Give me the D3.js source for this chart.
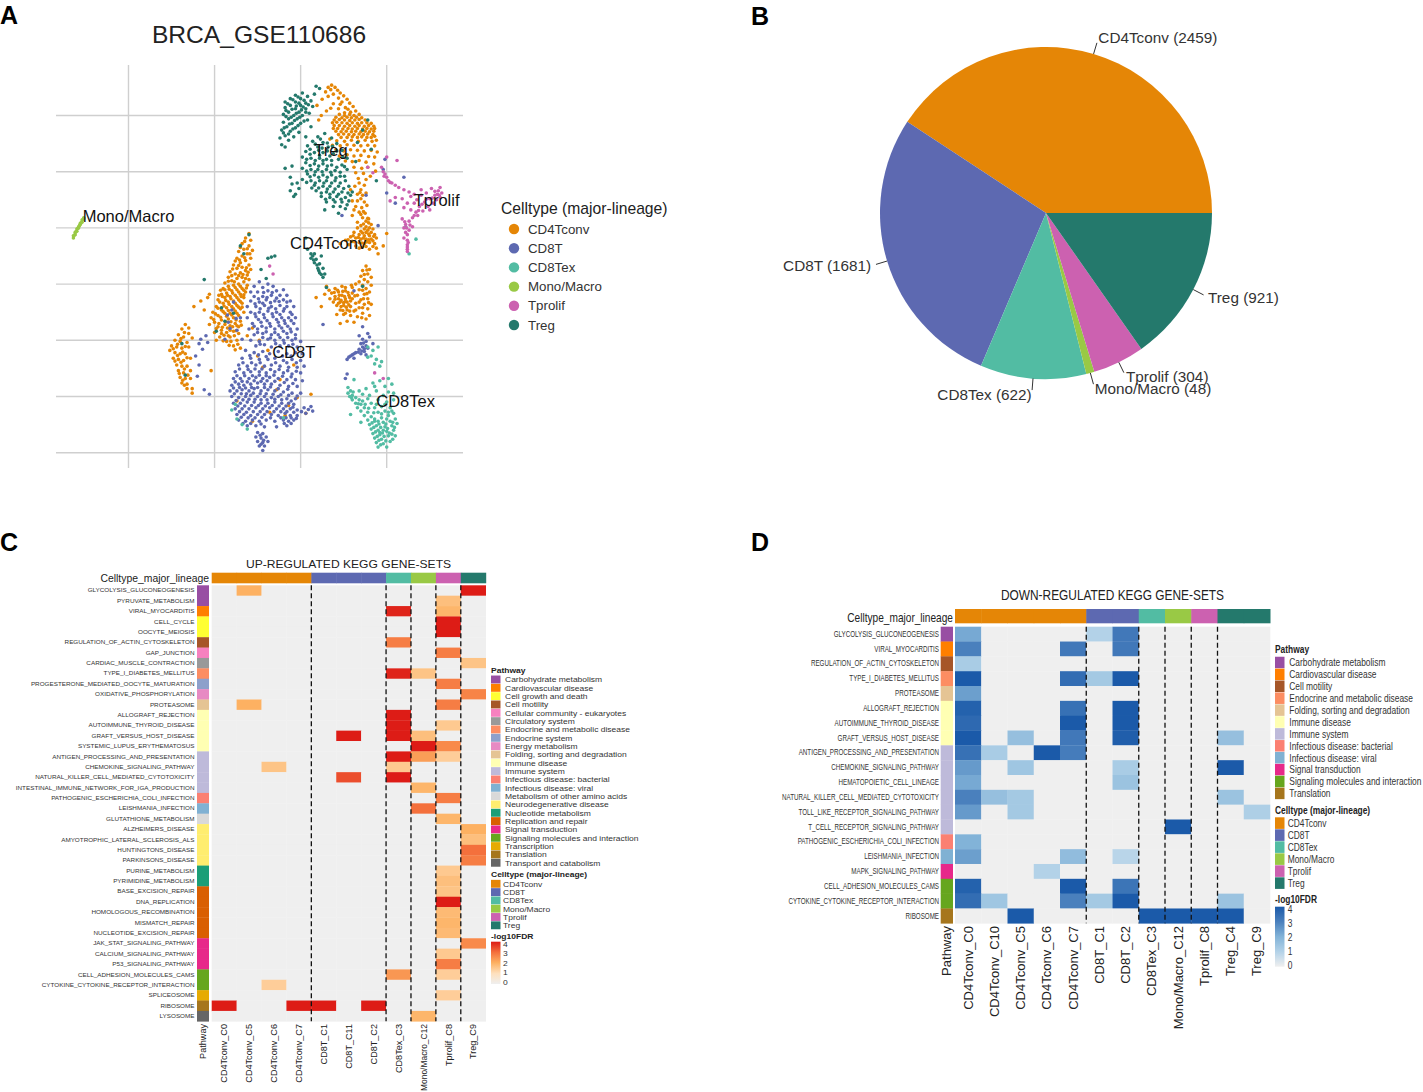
<!DOCTYPE html>
<html>
<head>
<meta charset="utf-8">
<script src="https://cdn.jsdelivr.net/npm/d3@7"></script>
<style>
body { margin: 0; background: #fff; }
svg { display: block; }
text { font-family: "Liberation Sans", Arial, sans-serif; }
</style>
</head>
<body>
<div id="chart"></div>
<script>
// ---- cell types and pathways
const cellTypes = ["CD4Tconv", "CD8T", "CD8Tex", "Mono/Macro", "Tprolif", "Treg"];
const cellColors = ["#e58606", "#5d69b1", "#52bca3", "#99c945", "#cc61b0", "#24796c"];
const cellCounts = [2459, 1681, 622, 48, 304, 921];

const pathways = ["Carbohydrate metabolism", "Cardiovascular disease", "Cell growth and death", "Cell motility",
  "Cellular community - eukaryotes", "Circulatory system", "Endocrine and metabolic disease", "Endocrine system",
  "Energy metabolism", "Folding, sorting and degradation", "Immune disease", "Immune system",
  "Infectious disease: bacterial", "Infectious disease: viral", "Metabolism of other amino acids",
  "Neurodegenerative disease", "Nucleotide metabolism", "Replication and repair", "Signal transduction",
  "Signaling molecules and interaction", "Transcription", "Translation", "Transport and catabolism"];
const pathwayColors = ["#984ea3", "#ff7f00", "#ffff33", "#a65628", "#f781bf", "#999999", "#fc8d62", "#8da0cb",
  "#e78ac3", "#e5c494", "#ffffb3", "#bebada", "#fb8072", "#80b1d3", "#d9d9d9", "#ffed6f", "#1b9e77", "#d95f02",
  "#e7298a", "#66a61e", "#e6ab02", "#a6761d", "#666666"];

// ---- panel C data
const upColumns = ["CD4Tconv_C0", "CD4Tconv_C5", "CD4Tconv_C6", "CD4Tconv_C7", "CD8T_C1", "CD8T_C11", "CD8T_C2", "CD8Tex_C3", "Mono/Macro_C12", "Tprolif_C8", "Treg_C9"];
const upColumnType = [0, 0, 0, 0, 1, 1, 1, 2, 3, 4, 5];
const upRows = ["GLYCOLYSIS_GLUCONEOGENESIS", "PYRUVATE_METABOLISM", "VIRAL_MYOCARDITIS", "CELL_CYCLE", "OOCYTE_MEIOSIS",
  "REGULATION_OF_ACTIN_CYTOSKELETON", "GAP_JUNCTION", "CARDIAC_MUSCLE_CONTRACTION", "TYPE_I_DIABETES_MELLITUS",
  "PROGESTERONE_MEDIATED_OOCYTE_MATURATION", "OXIDATIVE_PHOSPHORYLATION", "PROTEASOME", "ALLOGRAFT_REJECTION",
  "AUTOIMMUNE_THYROID_DISEASE", "GRAFT_VERSUS_HOST_DISEASE", "SYSTEMIC_LUPUS_ERYTHEMATOSUS",
  "ANTIGEN_PROCESSING_AND_PRESENTATION", "CHEMOKINE_SIGNALING_PATHWAY", "NATURAL_KILLER_CELL_MEDIATED_CYTOTOXICITY",
  "INTESTINAL_IMMUNE_NETWORK_FOR_IGA_PRODUCTION", "PATHOGENIC_ESCHERICHIA_COLI_INFECTION", "LEISHMANIA_INFECTION",
  "GLUTATHIONE_METABOLISM", "ALZHEIMERS_DISEASE", "AMYOTROPHIC_LATERAL_SCLEROSIS_ALS", "HUNTINGTONS_DISEASE",
  "PARKINSONS_DISEASE", "PURINE_METABOLISM", "PYRIMIDINE_METABOLISM", "BASE_EXCISION_REPAIR", "DNA_REPLICATION",
  "HOMOLOGOUS_RECOMBINATION", "MISMATCH_REPAIR", "NUCLEOTIDE_EXCISION_REPAIR", "JAK_STAT_SIGNALING_PATHWAY",
  "CALCIUM_SIGNALING_PATHWAY", "P53_SIGNALING_PATHWAY", "CELL_ADHESION_MOLECULES_CAMS",
  "CYTOKINE_CYTOKINE_RECEPTOR_INTERACTION", "SPLICEOSOME", "RIBOSOME", "LYSOSOME"];
const upRowPathway = [0, 0, 1, 2, 2, 3, 4, 5, 6, 7, 8, 9, 10, 10, 10, 10, 11, 11, 11, 11, 12, 13, 14, 15, 15, 15, 15, 16, 16, 17, 17, 17, 17, 17, 18, 18, 18, 19, 19, 20, 21, 22];
const upValues = [
  [0, 2, 0, 0, 0, 0, 0, 0, 0, 0, 4],
  [0, 0, 0, 0, 0, 0, 0, 0, 0, 1.7, 0],
  [0, 0, 0, 0, 0, 0, 0, 3.9, 0, 1.9, 0],
  [0, 0, 0, 0, 0, 0, 0, 0, 0, 4, 0],
  [0, 0, 0, 0, 0, 0, 0, 0, 0, 4, 0],
  [0, 0, 0, 0, 0, 0, 0, 2.8, 0, 0, 0],
  [0, 0, 0, 0, 0, 0, 0, 0, 0, 2.8, 0],
  [0, 0, 0, 0, 0, 0, 0, 0, 0, 0, 1.6],
  [0, 0, 0, 0, 0, 0, 0, 3.9, 1.6, 0, 0],
  [0, 0, 0, 0, 0, 0, 0, 0, 0, 2.8, 0],
  [0, 0, 0, 0, 0, 0, 0, 0, 0, 0, 2.7],
  [0, 2, 0, 0, 0, 0, 0, 0, 0, 2.8, 0],
  [0, 0, 0, 0, 0, 0, 0, 4, 0, 0, 0],
  [0, 0, 0, 0, 0, 0, 0, 4, 0, 1.5, 0],
  [0, 0, 0, 0, 0, 4, 0, 4, 1.7, 0, 0],
  [0, 0, 0, 0, 0, 0, 0, 0, 4, 2.6, 0],
  [0, 0, 0, 0, 0, 0, 0, 4, 2.3, 1.4, 0],
  [0, 0, 1.6, 0, 0, 0, 0, 1.5, 0, 0, 0],
  [0, 0, 0, 0, 0, 3.4, 0, 4, 0, 0, 0],
  [0, 0, 0, 0, 0, 0, 0, 0, 1.9, 0, 0],
  [0, 0, 0, 0, 0, 0, 0, 0, 0, 2.8, 0],
  [0, 0, 0, 0, 0, 0, 0, 0, 3, 0, 0],
  [0, 0, 0, 0, 0, 0, 0, 0, 0, 1.9, 0],
  [0, 0, 0, 0, 0, 0, 0, 0, 0, 0, 2],
  [0, 0, 0, 0, 0, 0, 0, 0, 0, 0, 1.7],
  [0, 0, 0, 0, 0, 0, 0, 0, 0, 0, 3],
  [0, 0, 0, 0, 0, 0, 0, 0, 0, 0, 2.8],
  [0, 0, 0, 0, 0, 0, 0, 0, 0, 1.5, 0],
  [0, 0, 0, 0, 0, 0, 0, 0, 0, 1.7, 0],
  [0, 0, 0, 0, 0, 0, 0, 0, 0, 1.6, 0],
  [0, 0, 0, 0, 0, 0, 0, 0, 0, 4, 0],
  [0, 0, 0, 0, 0, 0, 0, 0, 0, 1.8, 0],
  [0, 0, 0, 0, 0, 0, 0, 0, 0, 1.9, 0],
  [0, 0, 0, 0, 0, 0, 0, 0, 0, 1.8, 0],
  [0, 0, 0, 0, 0, 0, 0, 0, 0, 0, 2.6],
  [0, 0, 0, 0, 0, 0, 0, 0, 0, 1.5, 0],
  [0, 0, 0, 0, 0, 0, 0, 0, 0, 2.8, 0],
  [0, 0, 0, 0, 0, 0, 0, 2.4, 0, 1.4, 0],
  [0, 0, 1.4, 0, 0, 0, 0, 0, 0, 0, 0],
  [0, 0, 0, 0, 0, 0, 0, 0, 0, 1.4, 0],
  [4, 0, 0, 4, 4, 0, 4, 0, 0, 0, 0],
  [0, 0, 0, 0, 0, 0, 0, 0, 1.9, 0, 0]
];

// ---- panel D data
const downColumns = ["CD4Tconv_C0", "CD4Tconv_C10", "CD4Tconv_C5", "CD4Tconv_C6", "CD4Tconv_C7", "CD8T_C1", "CD8T_C2", "CD8Tex_C3", "Mono/Macro_C12", "Tprolif_C8", "Treg_C4", "Treg_C9"];
const downColumnType = [0, 0, 0, 0, 0, 1, 1, 2, 3, 4, 5, 5];
const downRows = ["GLYCOLYSIS_GLUCONEOGENESIS", "VIRAL_MYOCARDITIS", "REGULATION_OF_ACTIN_CYTOSKELETON", "TYPE_I_DIABETES_MELLITUS",
  "PROTEASOME", "ALLOGRAFT_REJECTION", "AUTOIMMUNE_THYROID_DISEASE", "GRAFT_VERSUS_HOST_DISEASE",
  "ANTIGEN_PROCESSING_AND_PRESENTATION", "CHEMOKINE_SIGNALING_PATHWAY", "HEMATOPOIETIC_CELL_LINEAGE",
  "NATURAL_KILLER_CELL_MEDIATED_CYTOTOXICITY", "TOLL_LIKE_RECEPTOR_SIGNALING_PATHWAY", "T_CELL_RECEPTOR_SIGNALING_PATHWAY",
  "PATHOGENIC_ESCHERICHIA_COLI_INFECTION", "LEISHMANIA_INFECTION", "MAPK_SIGNALING_PATHWAY",
  "CELL_ADHESION_MOLECULES_CAMS", "CYTOKINE_CYTOKINE_RECEPTOR_INTERACTION", "RIBOSOME"];
const downRowPathway = [0, 1, 3, 6, 9, 10, 10, 10, 11, 11, 11, 11, 11, 11, 12, 13, 18, 19, 19, 21];
const downPathways = [0, 1, 3, 6, 9, 10, 11, 12, 13, 18, 19, 21];
const downValues = [
  [2.2, 0, 0, 0, 0, 1, 3.2, 0, 0, 0, 0, 0],
  [3, 0, 0, 0, 3.2, 0, 3.2, 0, 0, 0, 0, 0],
  [1.2, 0, 0, 0, 0, 0, 0, 0, 0, 0, 0, 0],
  [4, 0, 0, 0, 3.5, 1.3, 4, 0, 0, 0, 0, 0],
  [2.4, 0, 0, 0, 0, 0, 0, 0, 0, 0, 0, 0],
  [3.8, 0, 0, 0, 3.4, 0, 4, 0, 0, 0, 0, 0],
  [3.6, 0, 0, 0, 4, 0, 4, 0, 0, 0, 0, 0],
  [4, 0, 1.6, 0, 3.2, 0, 3.9, 0, 0, 0, 1.6, 0],
  [3.4, 1.2, 0, 4, 3.1, 0, 0, 0, 0, 0, 0, 0],
  [2.5, 0, 1.4, 0, 0, 0, 1.2, 0, 0, 0, 4, 0],
  [2.2, 0, 0, 0, 0, 0, 1.5, 0, 0, 0, 0, 0],
  [3, 1.6, 1.3, 0, 0, 0, 0, 0, 0, 0, 1.5, 0],
  [2.5, 0, 1.3, 0, 0, 0, 0, 0, 0, 0, 0, 1.1],
  [0, 0, 0, 0, 0, 0, 0, 0, 4, 0, 0, 0],
  [2, 0, 0, 0, 0, 0, 0, 0, 0, 0, 0, 0],
  [2.4, 0, 0, 0, 1.7, 0, 0.9, 0, 0, 0, 0, 0],
  [0, 0, 0, 1, 0, 0, 0, 0, 0, 0, 0, 0],
  [3.8, 0, 0, 0, 4, 0, 3.3, 0, 0, 0, 0, 0],
  [3.5, 1.4, 0, 0, 3, 1.3, 4, 0, 0, 0, 1.5, 0],
  [0, 0, 4, 0, 0, 0, 0, 4, 4, 4, 4, 0]
];

// ---- panel A data, embedding coordinates
const cd4tconvCells = [
  // top lobe, thin band from the apex
  [1.8,17.7],[1.6,17.5],[2,17.5],[1.75,17.3],[2.15,17.25],[1.45,17.1],[2.3,17],[1.9,16.9],[2.5,16.75],[1.6,16.7],[2.2,16.55],[2.7,16.45],[1.25,16.45],[2.4,16.2],[2.85,16.1],[1.9,16.05],[3.05,15.8],[2.6,15.7],[0.95,15.9],[2.2,15.6],[1.75,15.65],[3.2,15.4],[2.9,15.3],[1.5,15.4],[2.55,15.25],[2.75,15.55],[2.3,16],[1.2,15],[1.05,14.6],
  // top lobe, dense mass
  [2.25,15.1],[2.55,15],[2.85,15.1],[3.1,15],[3.4,15.1],[2.05,14.85],[2.4,14.8],[2.7,14.85],[2.95,14.8],[3.25,14.85],[3.55,14.8],[1.95,14.6],[2.25,14.65],[2.55,14.6],[2.85,14.55],[3.15,14.6],[3.4,14.65],[3.75,14.6],[1.85,14.35],[2.1,14.4],[2.4,14.35],[2.7,14.3],[3,14.35],[3.3,14.3],[3.55,14.35],[3.85,14.35],[4.1,14.3],[1.95,14.1],[2.25,14.1],[2.55,14.05],[2.85,14.1],[3.15,14.05],[3.4,14.1],[3.7,14.05],[3.95,14.1],[4.25,14.05],[1.9,13.85],[2.15,13.85],[2.45,13.8],[2.75,13.85],[3,13.8],[3.3,13.85],[3.6,13.8],[3.85,13.85],[4.1,13.8],[4.3,13.85],[2.05,13.6],[2.35,13.55],[2.65,13.6],[2.95,13.55],[3.2,13.6],[3.5,13.55],[3.75,13.6],[4,13.55],[4.25,13.6],[2.2,13.3],[2.5,13.35],[2.8,13.3],[3.1,13.3],[3.4,13.35],[3.65,13.3],[3.9,13.35],[4.2,13.3],[2.35,13.05],[2.7,13.05],[3,13.1],[3.3,13.05],[3.55,13.1],[3.85,13.05],[4.1,13.05],[4.3,13.15],
  // top lobe, sparser below the mass
  [1.7,12.9],[2.1,12.75],[2.55,12.7],[2.95,12.8],[3.35,12.7],[3.75,12.8],[4.15,12.7],[4.4,12.8],[1.85,12.35],[2.3,12.3],[2.7,12.4],[3.1,12.35],[3.5,12.3],[3.9,12.35],[4.3,12.3],[2.05,11.95],[2.5,11.85],[2.9,11.95],[3.3,11.9],[3.7,11.85],[4.1,11.9],[4.45,11.75],[2.25,11.4],[2.7,11.5],[3.1,11.4],[3.5,11.45],[3.95,11.35],[4.3,11.3],[2.6,10.95],[3,10.9],[3.4,11],[3.8,10.85],[4.25,10.7],[3.1,10.4],[3.55,10.3],[3.9,10.4],[4.35,10.05],[3.2,9.9],[3.65,9.85],[4.05,9.6],[3.35,9.4],[3.8,9.3],
  // stem and cap above the CD4Tconv label
  [3.4,9],[3.7,8.8],[2.9,8.4],[3.5,8.4],[3.3,8],[3.8,8.1],[3.5,7.6],[3,7.4],[3.7,7.3],[3.2,6.9],[3.55,6.8],[3.85,7],[3.4,6.4],[3.75,6.3],[3,6.1],[3.6,5.9],[3.95,5.8],[3.3,5.5],[3.8,5.6],[4.1,5.3],[3.5,5.2],[3.8,5.1],[4,5],[3.3,5],[3.7,4.9],[3.9,4.8],[4.2,4.9],[3.5,4.7],[3.8,4.6],[4.1,4.6],[3.1,4.6],[3.4,4.4],[3.7,4.3],[4,4.3],[4.3,4.4],[2.9,4.2],[3.2,4.1],[3.5,4],[3.8,4],[4.1,4],[4.4,4.1],[2.6,3.9],[3,3.8],[3.4,3.7],[3.7,3.6],[4,3.7],[4.3,3.6],[2.3,3.6],[2.8,3.5],[3.2,3.4],[3.6,3.3],[4.4,3.2],[4,3.1],[4.8,3.4],[4.5,2.7],[5,4.5],
  [3.65,5.35],[3.95,5.45],[3.6,4.55],[3.95,4.45],[4.25,4.25],[3.35,4.15],[3.65,4.1],[3.95,3.95],[4.2,3.85],[3.15,3.75],[3.55,3.65],[3.85,3.75],[2.75,3.95],[3.05,4.3],[3.4,3.2],[3.8,3.35],[4.2,3.35],[3.3,7.4],[3.6,7.9],[3.15,8.7],[3.65,6.45],[3.5,6.2],[3.9,5.85],[3.1,6.6],[3.45,8.15],
  // lower lobe
  [3.8,1.6],[3.6,1.2],[4,1.3],[3.9,0.9],[3.5,0.7],[4.1,0.6],[3.7,0.4],[3.4,0.2],[3.9,0.2],[4.1,-0.1],[3.6,-0.1],[3.2,0],[3.8,-0.4],[4,-0.7],[3.4,-0.5],[3,-0.3],[2.6,-0.3],[3.7,-0.9],[1.5,-0.2],[2,-0.4],[2.4,-0.2],[1.4,-0.9],[1.8,-0.8],[2.2,-0.7],[2.6,-0.6],[3,-0.8],[3.3,-1],[2,-1.1],[2.4,-1],[2.8,-1],[1.7,-1.3],[2.2,-1.3],[2.6,-1.3],[3,-1.3],[3.5,-1.4],[3.9,-1.3],[1.9,-1.6],[2.3,-1.6],[2.7,-1.6],[3.2,-1.7],[3.7,-1.8],[4.1,-1.8],[2.1,-1.9],[2.5,-1.9],[2.9,-2],[3.4,-2.1],[3.9,-2.2],[2.3,-2.3],[2.7,-2.3],[3.1,-2.4],[3.6,-2.6],[4,-2.8],[2.5,-2.7],[2.9,-2.8],[3.3,-2.9],[3.8,-3.1],[2.7,-3.3],[2.3,-3.5],[3.1,-3.4],[0.9,-1.2],[1.2,-2],[2.1,-2.7],
  [2.15,-0.55],[2.45,-0.65],[2.75,-0.75],[1.95,-0.75],[2.25,-1],[2.55,-1.1],[2.85,-1.2],[2,-1.35],[2.35,-1.45],[2.6,-1.55],[2.9,-1.5],[2.2,-1.7],[2.5,-1.65],[2.8,-1.85],[2.35,-2],[2.65,-2.05],[2.45,-2.35],[2.85,-2.4],[2.6,-2.6],[3.15,-1.05],[3.4,-1.6],[3.6,-0.55],[3.85,-0.85],[3.65,-1.3],[3.95,-1.65],[3.2,-2.3],[3.6,-2.1],[1.65,-0.55],[2.95,-0.1],[3.7,0.85],[3.85,1.25],[3.55,-3],
  // big left lobe
  [-3,4.5],[-3.2,4.1],[-2.9,3.9],[-3.4,3.6],[-3,3.4],[-3.3,3.1],[-2.8,3],[-3.6,2.9],[-3.1,2.7],[-3.4,2.5],[-2.9,2.3],[-3.7,2.3],[-3.2,2.1],[-3.5,1.9],[-3,1.7],[-3.9,1.7],[-3.4,1.5],[-3.7,1.4],[-2.9,1.3],[-3.2,1.2],[-4.1,1.1],[-3.5,1],[-3.8,0.9],[-3.1,0.8],[-4.2,0.6],[-3.4,0.6],[-3.7,0.5],[-4,0.3],[-3,0.4],[-3.3,0.2],[-4.4,0.1],[-3.6,0],[-3.9,-0.1],[-4.2,-0.2],[-3.1,-0.1],[-4.5,-0.4],[-3.4,-0.4],[-3.7,-0.5],[-4,-0.6],[-4.3,-0.8],[-3.2,-0.7],[-4.6,-0.9],[-3.5,-0.9],[-3.8,-1],[-4.1,-1.1],[-4.4,-1.2],[-3.3,-1.2],[-4.8,-1.4],[-3.6,-1.4],[-3.9,-1.5],[-4.2,-1.6],[-4.5,-1.7],[-3.4,-1.7],[-4.9,-2],[-3.7,-1.9],[-4,-2],[-4.3,-2.1],[-4.6,-2.3],[-3.5,-2.2],[-5.1,-2.5],[-3.8,-2.4],[-4.1,-2.6],[-4.4,-2.6],[-4.8,-2.8],[-3.6,-2.8],[-5.2,-3],[-3.9,-3],[-4.2,-3.1],[-4.6,-3.2],[-3.5,-3.3],[-5,-3.4],[-3.8,-3.5],[-4.4,-3.6],[-4.1,-3.7],[-4.8,-3.8],[-3.6,-3.8],[-4.6,-4.1],[-3.9,-4.2],[-4.3,-4.3],[-5,-4.3],[-3.6,-4.4],[-4.1,-4.7],[-4.7,-4.7],[-3.7,-5],[-4.3,-5.1],[-3.9,-5.5],[-3.5,-5.7],[-4.9,-5],[-5.4,-1.2],[-5.8,-1.5],[-5.6,-2.3],[-5.3,-0.9],[-6.2,-2],
  [-3.25,3.8],[-3.1,3.15],[-3.5,3.25],[-3.25,2.35],[-3.55,2.15],[-3.8,2.05],[-3.15,1.45],[-3.6,1.65],[-3.95,1.35],[-3.35,0.85],[-3.6,0.75],[-4,0.75],[-3.2,0.5],[-3.85,0.2],[-4.2,0.25],[-3.5,-0.2],[-3.8,-0.3],[-4.15,-0.45],[-4.4,-0.5],[-3.3,-0.55],[-3.6,-0.7],[-3.95,-0.8],[-4.25,-1],[-4.55,-1.1],[-3.45,-1.1],[-3.7,-1.2],[-4.05,-1.3],[-4.35,-1.45],[-4.7,-1.6],[-3.5,-1.55],[-3.8,-1.7],[-4.15,-1.8],[-4.45,-1.95],[-4.8,-2.15],[-3.6,-2.05],[-3.9,-2.2],[-4.2,-2.35],[-4.5,-2.45],[-4.95,-2.65],[-3.7,-2.6],[-4,-2.75],[-4.3,-2.85],[-4.65,-2.95],[-5.05,-3.15],[-3.75,-3.2],[-4.05,-3.35],[-4.35,-3.35],[-4.75,-3.5],[-3.7,-3.7],[-3.95,-3.8],[-4.25,-3.9],[-4.55,-3.85],[-4.9,-3.95],[-3.75,-4.15],[-4.1,-4.1],[-4.45,-4.55],[-4.2,-4.6],[-3.85,-4.6],[-4.6,-4.4],[-4.05,-5.1],[-4.5,-5.05],[-3.65,-5.35],[-4.15,-5.45],[-3.8,-5.85],[-3.3,-2.5],[-3.45,-3.65],[-5.3,-3.6],[-3.3,-0.95],[-3.05,1.05],[-2.95,2.7],[-3.15,-0.35],[-3.4,-2.05],[-4.75,-1],[-4.65,-0.55],
  // small far left lobe
  [-6.7,-3.6],[-6.5,-3.9],[-6.9,-4],[-6.5,-4.4],[-7.1,-4.5],[-6.8,-4.7],[-6.3,-4.8],[-7.3,-5],[-7,-5.1],[-6.6,-5.2],[-7.5,-5.5],[-7.2,-5.6],[-6.9,-5.7],[-6.5,-5.6],[-7.6,-5.9],[-7.3,-6.1],[-7,-6.2],[-6.7,-6.2],[-7.4,-6.6],[-7.1,-6.7],[-6.8,-6.8],[-6.4,-6.6],[-7.2,-7.2],[-6.9,-7.3],[-6.6,-7.3],[-7.1,-7.7],[-6.8,-7.9],[-6.4,-7.7],[-7,-8.3],[-6.7,-8.4],[-6.4,-8.4],[-6.9,-8.8],[-6.6,-8.9],[-6.6,-9.3],[-6.3,-9.3],[-6.3,-9.7],[-5.2,-7.7],
  [-6.75,-4.3],[-6.95,-4.85],[-6.7,-5.55],[-7.15,-5.35],[-7.4,-5.75],[-6.85,-6.05],[-7.15,-6.35],[-6.6,-6.55],[-6.95,-6.95],[-7.3,-6.85],[-6.75,-7.55],[-7.05,-7.95],[-6.85,-8.55],[-6.55,-8.1],[-6.75,-9],
  // strays in the other clusters
  [-2.5,-6.4],[-1.9,-5.9],[-2.2,-7.4],[-1.2,-8.5],[-0.4,-7.2],[-0.7,-10.8],[-1.8,-11.4],[-3.7,-10.4],[-2.8,-12.2],[0.3,-11.5],[-0.2,-10.1],[-2.4,-5],[-3.1,-4.6],[-2.8,-3.9],[-1.4,-9.4],[0.6,-9.8],[-0.9,-11.7]
];
const cd8tCells = [
  // upper half
  [-2.4,0.2],[-1.9,0],[-2.7,-0.2],[-2.2,-0.3],[-1.6,-0.2],[-2.9,-0.7],[-2.5,-0.7],[-1.9,-0.6],[-1.4,-0.6],[-1,-0.5],[-2.7,-1.1],[-2.2,-1.1],[-1.7,-1],[-1.2,-1],[-0.8,-1],[-2.9,-1.5],[-2.4,-1.6],[-2,-1.4],[-1.5,-1.5],[-1,-1.4],[-0.6,-1.5],[-3.1,-2],[-2.6,-2],[-2.1,-1.9],[-1.7,-2],[-1.2,-1.9],[-0.8,-2],[-0.4,-2],[-2.9,-2.5],[-2.4,-2.5],[-1.9,-2.4],[-1.4,-2.5],[-1,-2.4],[-0.6,-2.5],[-3.1,-3],[-2.6,-2.9],[-2.1,-3],[-1.6,-2.9],[-1.1,-3],[-0.7,-3],[-0.3,-3],[-2.8,-3.5],[-2.3,-3.4],[-1.8,-3.5],[-1.3,-3.4],[-0.9,-3.5],[-0.4,-3.5],[-3,-4],[-2.5,-4],[-2,-3.9],[-1.5,-4],[-1.1,-3.9],[-0.6,-4],[-0.2,-4],[-2.7,-4.5],[-2.2,-4.4],[-1.7,-4.5],[-1.3,-4.5],[-0.8,-4.4],[-0.3,-4.5],[-2.9,-5],[-2.4,-5.1],[-1.9,-4.9],[-1.5,-5],[-1,-5],[-0.5,-5],[0,-5.1],[-2.6,-5.5],[-2.1,-5.4],[-1.7,-5.6],[-1.2,-5.5],[-0.7,-5.5],[-0.2,-5.6],
  [-2.15,-0.75],[-1.65,-0.75],[-2.45,-1.3],[-1.95,-1.2],[-1.4,-1.25],[-2.65,-1.75],[-2.2,-1.7],[-1.75,-1.65],[-1.25,-1.55],[-0.8,-1.6],[-2.35,-2.2],[-1.85,-2.15],[-1.45,-2.2],[-0.95,-2.2],[-2.65,-2.65],[-2.15,-2.7],[-1.65,-2.65],[-1.2,-2.7],[-0.5,-2.7],[-2.45,-3.15],[-1.95,-3.25],[-1.4,-3.15],[-0.95,-3.25],[-0.55,-3.25],[-2.7,-3.75],[-2.25,-3.75],[-1.75,-3.75],[-1.25,-3.7],[-0.75,-3.75],[-2.5,-4.3],[-2,-4.25],[-1.5,-4.3],[-1,-4.2],[-0.55,-4.25],[-2.2,-4.75],[-1.75,-4.8],[-1.2,-4.75],[-0.75,-4.75],[-0.3,-4.85],[-2.35,-5.35],[-1.45,-5.3],[-0.95,-5.25],[-0.45,-5.35],
  // lower half
  [-3.2,-5.9],[-2.7,-6.1],[-2.2,-6],[-1.8,-6.2],[-1.3,-6],[-0.8,-6.2],[-0.3,-6.1],[0.1,-6.2],[-3.4,-6.6],[-2.9,-6.6],[-2.4,-6.7],[-1.9,-6.7],[-1.5,-6.6],[-1,-6.8],[-0.5,-6.7],[0,-6.8],[-3.6,-7.2],[-3.1,-7.3],[-2.6,-7.2],[-2.1,-7.3],[-1.7,-7.2],[-1.2,-7.3],[-0.7,-7.4],[-0.2,-7.4],[0.2,-7.3],[-3.8,-7.8],[-3.3,-7.9],[-2.9,-7.8],[-2.4,-7.8],[-2,-7.9],[-1.5,-7.8],[-1,-7.9],[-0.5,-8],[0,-7.9],[-3.9,-8.4],[-3.5,-8.4],[-3,-8.4],[-2.6,-8.3],[-2.2,-8.4],[-1.8,-8.3],[-1.3,-8.4],[-0.8,-8.5],[-0.3,-8.5],[0.1,-8.6],[-4,-9],[-3.6,-8.9],[-3.3,-9],[-2.9,-8.9],[-2.5,-8.8],[-2.1,-8.9],[-1.7,-8.9],[-1.2,-9],[-0.7,-9.1],[-0.2,-9.1],[-4.1,-9.5],[-3.7,-9.5],[-3.4,-9.4],[-3,-9.5],[-2.7,-9.3],[-2.3,-9.5],[-1.9,-9.4],[-1.5,-9.5],[-1,-9.6],[-0.5,-9.7],[0,-9.7],[-4,-10],[-3.6,-10.1],[-3.2,-10],[-2.9,-9.9],[-2.5,-10],[-2.1,-10],[-1.7,-10.1],[-1.3,-10],[-0.8,-10.2],[-0.3,-10.2],[-3.9,-10.6],[-3.5,-10.6],[-3.1,-10.5],[-2.7,-10.5],[-2.3,-10.6],[-1.9,-10.6],[-1.5,-10.5],[-1.1,-10.6],[-0.7,-10.6],[-0.4,-10.7],[-3.8,-11.1],[-3.4,-11.1],[-3,-11.1],[-2.6,-11],[-2.2,-11.1],[-1.8,-11],[-1.4,-11.1],[-1,-11.1],[-0.6,-11.1],[-0.2,-11.2],[0.2,-11],[0.6,-10.9],[0.7,-11.3],[-3.7,-11.6],[-3.3,-11.6],[-2.9,-11.7],[-2.5,-11.6],[-2.1,-11.6],[-1.7,-11.6],[-1.3,-11.7],[-0.9,-11.5],[-0.6,-11.7],[-0.2,-11.7],[0.3,-11.5],[-3.6,-12.1],[-3.2,-12.2],[-2.8,-12.1],[-2.4,-12.2],[-2,-12.1],[-1.5,-12.2],[-1,-12.1],[-0.7,-12.2],[-0.4,-12.1],[-3.1,-12.6],[-2.6,-12.6],[-2.1,-12.7],[-1.4,-12.7],[-0.8,-12.6],
  [-2.95,-6.35],[-2.45,-6.3],[-2,-6.45],[-1.05,-6.4],[-0.55,-6.4],[-3.35,-7],[-2.85,-7],[-2.35,-7],[-1.45,-7],[-0.8,-7],[-0.25,-7],[-3.55,-7.55],[-3.05,-7.6],[-2.65,-7.55],[-2.25,-7.55],[-1.75,-7.6],[-1.25,-7.6],[-0.75,-7.7],[-0.25,-7.75],[-3.7,-8.15],[-3.25,-8.15],[-2.8,-8.15],[-2.4,-8.1],[-2,-8.15],[-1.55,-8.1],[-1.05,-8.2],[-0.55,-8.25],[-3.8,-8.7],[-3.4,-8.65],[-3.1,-8.7],[-2.7,-8.6],[-2.3,-8.65],[-1.95,-8.6],[-1.5,-8.65],[-0.95,-8.75],[-0.45,-8.85],[-3.9,-9.25],[-3.55,-9.2],[-3.2,-9.25],[-2.85,-9.2],[-2.5,-9.2],[-2.1,-9.2],[-1.75,-9.15],[-1.3,-9.3],[-0.75,-9.35],[-3.85,-9.75],[-3.45,-9.75],[-3.15,-9.75],[-2.75,-9.7],[-2.35,-9.75],[-2,-9.75],[-1.6,-9.8],[-1.15,-9.85],[-0.7,-9.9],[-0.2,-9.95],[-3.75,-10.35],[-3.35,-10.3],[-3,-10.25],[-2.65,-10.25],[-2.3,-10.3],[-1.95,-10.3],[-1.5,-10.25],[-1.1,-10.3],[-0.55,-10.4],[-3.65,-10.85],[-3.25,-10.85],[-2.85,-10.8],[-2.45,-10.8],[-2.05,-10.85],[-1.65,-10.8],[-1.25,-10.85],[-0.85,-10.85],[-0.45,-10.95],[-3.55,-11.35],[-3.15,-11.4],[-2.75,-11.35],[-2.35,-11.35],[-1.95,-11.35],[-1.55,-11.35],[-1.15,-11.35],[-0.8,-11.35],[-0.4,-11.4],[-3.45,-11.85],[-3.05,-11.9],[-2.65,-11.9],[-2.25,-11.85],[-1.75,-11.9],[-1.15,-11.9],[-0.85,-11.9],[-0.55,-11.9],[-0.25,-11.95],[-3.35,-12.4],[-2.9,-12.4],[-2.3,-12.45],[-0.95,-12.4],[-0.55,-12.4],[0.45,-11.15],[0.05,-11.35],
  // tail under the main cloud
  [-2.5,-13.2],[-2.2,-13.3],[-2.6,-13.6],[-2.3,-13.7],[-2,-13.6],[-2.5,-14],[-2.2,-14.1],[-1.9,-14],[-2.4,-14.4],[-2.1,-14.4],[-2.2,-14.8],[-2.35,-13.45],[-2.15,-13.9],[-2.3,-14.25],
  // small knot above CD8Tex
  [3.6,-3.8],[3.9,-4.4],[3.4,-4.6],[4,-4.7],[3.6,-4.9],[3.8,-5.1],[3.5,-5.3],[3.8,-5.5],[3.6,-5.6],[3.9,-5.7],[3.4,-5.8],[3.7,-6],[3.5,-6.2],[3.8,-6.3],[3.2,-6.1],[3,-6.3],[2.8,-6.5],[2.7,-6.7],[3.1,-6.6],[2.7,-8],[4.2,-5.3],[3.65,-5.25],[3.7,-5.75],[3.55,-5.95],[3.35,-6.05],[3.1,-6.2],[2.9,-6.4],
  // strays among the orange and teal cells
  [-5.8,-4.9],[-5.5,-4.6],[-5.9,-5.3],[-5.4,-5.2],[-5.7,-5.8],[-6.1,-6.4],[-5.9,-7.2],[-6,-8.2],[-5.6,-9.4],[-5.3,-9.8],[-3.9,-1.6],[-3.5,-3],[-4.2,-3.4],[-3.7,-4.1],[-4.4,-4.9],[-4,-2.3],[-4.25,-2.75],[-3.75,-3.05],[-4.1,-3.95],[-3.4,-4.9],[5,8.1],[4.8,10.2],[4.9,11.1],[3.1,-0.6],[1.3,-3.6],[2.4,6.1],[3.8,7.9],[4.5,5.2],[2.6,-8.4],[6,9.5],[5.5,7.2]
];
const cd8texCells = [
  [2.75,-9.2],[2.9,-9.5],[2.75,-9.7],[3,-9.9],[2.85,-10],[3.2,-10.1],[3,-10.3],[3.4,-10.3],[3.6,-9.8],[3.2,-10.6],[3.5,-10.7],[3.9,-10.2],[3.3,-11],[3.7,-11],[4.1,-10.6],[4.5,-10.3],[3.5,-11.3],[3.9,-11.4],[4.3,-11],[4.7,-10.9],[3.7,-11.7],[4.1,-11.8],[4.5,-11.4],[4.9,-11.3],[5.2,-11],[3.9,-12.1],[4.3,-12.2],[4.7,-11.9],[5.1,-11.7],[5.4,-11.5],[4,-12.5],[4.4,-12.6],[4.8,-12.3],[5.2,-12.2],[5.5,-12],[4.1,-12.9],[4.5,-13],[4.9,-12.7],[5.3,-12.6],[5.6,-12.4],[4.2,-13.3],[4.6,-13.4],[5,-13.1],[5.4,-13],[4.3,-13.7],[4.7,-13.8],[5.1,-13.5],[5.5,-13.5],[4.4,-14.1],[4.8,-14.2],[5.2,-14],[4.5,-14.5],[5,-14.5],
  [4.2,-8.8],[4.6,-8.6],[5.1,-8.4],[5.3,-8.9],[4.9,-9.1],[3.8,-9.3],[4.4,-9.5],[5.1,-9.6],[4,-9.9],[4.8,-9.9],[5.4,-9.7],[3.4,-9.5],[5.4,-10.3],[5,-10.5],[4.3,-9.1],[3.1,-8.5],[2.9,-11.6],[3.5,-12.3],[4.8,-13],[4.5,-12.2],[5,-12],[4.3,-12],[4.6,-13.2],
  [4.15,-12.35],[4.55,-12.45],[4.95,-12.45],[5.35,-12.3],[4.25,-12.75],[4.65,-12.75],[5.05,-12.85],[5.45,-12.75],[4.35,-13.15],[4.75,-13.25],[5.15,-13.25],[4.45,-13.55],[4.85,-13.55],[5.3,-13.35],[4.55,-13.9],[4.95,-13.95],[5.35,-13.8],[4.65,-14.3],[4.25,-11.45],[4.7,-11.55],[5.1,-11.4],[3.95,-11.05],[4.4,-10.7],[4.9,-10.7],[3.6,-10.4],[3.35,-10.65],[3.05,-9.6],[2.95,-10.1],[3.75,-10.7],[5.3,-11.3],
  [3.9,-5.6],[4.2,-5.9],[4.5,-5.6],[4.1,-6.4],[4.4,-6.7],[3.9,-6.5],[4.7,-6.9],[4.3,-7.1],[4.6,-7.3],
  [-3.8,-10.7],[-3.7,-12],[-4,-11.2],[-3.4,-12.5],[-1,-11.9],[-3.1,-12.9],[6.1,5.1],[6.7,4],[6.3,2.7]
];
const monoMacroCells = [[-13.2,4.1],[-13.2,4.3],[-13.15,4.35],[-13.1,4.4],[-13.1,4.6],[-13.05,4.65],[-13,4.7],[-13,4.9],[-12.95,4.95],[-12.9,5],[-12.9,5.1],[-12.85,5.2],[-12.8,5.3],[-12.8,5.4],[-12.75,5.45],[-12.7,5.5],[-12.7,5.7],[-12.65,5.75],[-12.6,5.8],[-12.6,5.9]];
const tprolifCells = [
  [4.7,10.4],[4.8,10],[4.9,9.8],[5,9.5],[5.1,9.2],[5.3,9],[5.5,8.8],[5.7,8.6],[6,8.4],[6.3,8.2],[6.6,8],[7,7.9],[7.3,8.1],[7.5,7.6],[7.8,7.9],[8,8.3],[8.1,8.6],[8.2,8.1],[7.9,7.5],[8.1,7.7],[7.7,7.2],[7.4,6.9],[7.1,6.5],[6.9,6.9],[6.8,6.1],[6.5,5.9],[6.3,5.6],[6.1,5.3],[6,5],[6.3,4.8],[6.5,5.1],[6.2,4.4],[6.1,4.6],[6,4.1],[6.2,3.9],[6.2,3.5],[6.2,3.1],[6.2,2.9],[6.2,3.3],[6,6.8],[6.4,6.6],[5.5,7.7],[5.2,7.4],[5.9,7.6],[6.2,7.2],[6.6,7.2],[7.2,7.3],[5.9,5.8],[6.7,6.4],[7.5,6.6],[4.2,9.9],[5,11.3],[5.6,11],[3.9,10.4],[6.4,7.8],[7,8.4],[7.6,8.5],
  [7.95,8],[7.65,7.65],[7.3,7.55],[7.05,7.1],[6.85,6.55],[6.6,6.1],[6.35,5.25],[6.15,5],[6.05,5.55],[6.25,3.7],[4.85,9.6],[5.2,9.05],[8.05,7.9],[7.8,8.25],[6.75,7.5],
  [-1.8,1.6],[-1.6,0.9],[4.3,-7.9],[4.8,-8.4]
];
const tregCells = [
  // upper left blob
  [0.1,17],[-0.3,16.8],[0.4,16.7],[-0.6,16.5],[0,16.5],[0.6,16.3],[-0.9,16.2],[-0.3,16.2],[0.3,16.1],[-0.6,15.9],[0,15.9],[0.7,15.8],[-0.9,15.7],[-0.3,15.6],[0.3,15.6],[-0.7,15.3],[-0.1,15.3],[0.5,15.2],[-1,15.1],[-0.4,15],[0.1,15],[-0.7,14.7],[-0.2,14.7],[0.4,14.6],[-1,14.4],[-0.5,14.3],[0,14.3],[-0.8,14],[-0.3,13.9],[0.6,14],[-1.1,13.7],[-0.6,13.6],[-0.1,13.5],[-0.9,13.2],[-0.4,13.1],[-1.2,13],[-0.7,12.8],[-1.1,12.4],[-0.9,12.2],[0.3,13.1],[0.8,16.9],[1.1,17.4],[0.9,17.6],
  [-0.15,16.65],[0.2,16.35],[-0.45,16.4],[-0.1,16.1],[0.45,15.95],[-0.75,16.05],[-0.25,15.85],[0.15,15.75],[-0.5,15.55],[0.05,15.5],[-0.85,15.45],[-0.25,15.2],[0.3,15.3],[-0.55,14.85],[-0.05,14.85],[-0.85,14.9],[-0.35,14.55],[0.2,14.5],[-0.65,14.25],[-0.15,14.1],[-0.95,13.9],[-0.45,13.8],[-0.7,13.35],[-1,13.45],
  // main blob under the Treg label
  [1.4,13.4],[1,13.1],[1.8,13],[0.7,12.7],[1.3,12.6],[2.1,12.5],[0.4,12.3],[1,12.2],[1.6,12.2],[2.4,11.9],[0.3,11.8],[0.8,11.7],[1.3,11.7],[1.9,11.6],[0.1,11.3],[0.6,11.2],[1.1,11.2],[1.5,11.1],[2.2,11.1],[2.7,11.2],[0.3,10.8],[0.8,10.7],[1.3,10.7],[1.8,10.6],[2.4,10.6],[0.1,10.3],[0.6,10.2],[1,10.2],[1.5,10.2],[2,10.1],[2.7,10.2],[0.4,9.8],[0.8,9.7],[1.3,9.7],[1.8,9.7],[2.3,9.6],[0.1,9.3],[0.6,9.2],[1.1,9.2],[1.5,9.2],[2,9.2],[2.6,9.2],[0.8,8.8],[1.3,8.7],[1.7,8.7],[2.2,8.7],[2.8,8.7],[0.9,8.3],[1.5,8.2],[1.9,8.2],[2.4,8.2],[3,8.2],[1.2,7.8],[1.7,7.7],[2.1,7.8],[2.6,7.7],[2.9,7.9],[1.5,7.3],[2,7.3],[2.4,7.3],[2.8,7.4],[1.9,6.9],[2.3,6.9],[2.6,6.7],[1.4,6.6],[2.2,6.3],[-0.6,9.5],[-0.5,8.9],[-0.2,9],[-0.6,8.3],[-0.3,8],[-0.1,8.5],[-0.9,10.3],[-0.5,10.5],[-0.4,7.8],[3.3,12.6],[3.6,13.7],[3.9,14.6],[3.2,10.9],[4.1,12],[4.4,9.2],
  [1.15,12.9],[1.55,12.55],[0.85,12.45],[1.25,12.1],[1.85,12.25],[0.55,12],[1.05,11.9],[1.55,11.85],[2.1,11.85],[0.55,11.55],[1.1,11.45],[1.7,11.4],[0.35,11.1],[0.85,11],[1.3,11],[1.8,11],[2.45,11.3],[0.55,10.55],[1.05,10.5],[1.55,10.5],[2.1,10.4],[2.55,10.45],[0.35,10.05],[0.85,10],[1.25,10],[1.75,9.95],[2.3,9.95],[0.55,9.55],[1.05,9.5],[1.55,9.5],[2.05,9.45],[2.55,9.6],[0.35,9.05],[0.85,9],[1.35,9],[1.8,9],[2.3,9],[0.65,8.55],[1.05,8.55],[1.55,8.45],[2,8.45],[2.5,8.5],[1.2,8.1],[1.7,8],[2.2,8],[2.75,8.1],[1.45,7.55],[1.9,7.5],[2.35,7.55],[2.7,7.05],
  // strip under the CD4Tconv label
  [0.4,3.1],[0.6,2.7],[0.8,2.7],[0.6,2.3],[0.9,2.2],[1.2,2.5],[0.8,1.9],[1.1,1.8],[1,1.4],[1.3,1.4],[1.1,1],[1.4,0.9],[1.3,0.6],[0.3,4.1],[0.7,2.5],[0.75,2.15],[0.95,1.7],[1.05,1.2],[1.2,0.85],
  // strays
  [-3,4.4],[-3.5,3.4],[-3.3,2.7],[-1.9,2.3],[-1.7,2.4],[-1.5,2.5],[-2.3,1.3],[-4.6,-2.1],[-5.6,0.4],[-4.9,-4.2],[-4.4,-3.3],[-3.9,-2.6],[-6.9,-5.3],[-6.7,-8.1],[-2,0.5],[3.6,-0.2],[1.5,-0.3]
];
const umapPoints = [cd4tconvCells, cd8tCells, cd8texCells, monoMacroCells, tprolifCells, tregCells];
const umapGridX = [-10, -5, 0, 5];
const umapGridY = [-15, -10, -5, 0, 5, 10, 15];
const umapLabelX = [1.6, -0.4, 6.1, -10, 7.9, 1.76];
const umapLabelY = [3.6, -6.1, -10.4, 6, 7.5, 11.9];

const w = 1423;
const h = 1092;
const svg = d3.select("#chart").append("svg").attr("width", w).attr("height", h);

// panel letters
svg.selectAll(".panel-letter")
  .data([["A", 0, 24], ["B", 751, 25], ["C", 0, 551], ["D", 751, 551]])
  .enter().append("text")
  .attr("class", "panel-letter")
  .attr("x", d => d[1])
  .attr("y", d => d[2])
  .attr("font-size", 25)
  .attr("font-weight", "bold")
  .attr("fill", "#000")
  .text(d => d[0]);

// ---- panel A
const xUmap = d3.scaleLinear().domain([-10, 5]).range([128.5, 386.7]);
const yUmap = d3.scaleLinear().domain([-15, 15]).range([452.7, 115.5]);

svg.append("text").attr("x", 259).attr("y", 42.5).attr("text-anchor", "middle")
  .attr("font-size", 24.6).attr("fill", "#222").text("BRCA_GSE110686");

const grid = svg.append("g").attr("stroke", "#cfcfcf").attr("stroke-width", 1.4);
grid.selectAll("line.v").data(umapGridX).enter().append("line").attr("class", "v")
  .attr("x1", d => xUmap(d)).attr("x2", d => xUmap(d)).attr("y1", 65).attr("y2", 468);
grid.selectAll("line.h").data(umapGridY).enter().append("line").attr("class", "h")
  .attr("y1", d => yUmap(d)).attr("y2", d => yUmap(d)).attr("x1", 56).attr("x2", 463);

umapPoints.forEach((cells, i) => {
  svg.append("g").attr("fill", cellColors[i]).selectAll("circle")
    .data(cells).enter().append("circle")
    .attr("cx", d => xUmap(d[0]))
    .attr("cy", d => yUmap(d[1]))
    .attr("r", 1.8);
});

svg.selectAll(".umap-label").data(cellTypes).enter().append("text")
  .attr("class", "umap-label")
  .attr("x", (d, i) => xUmap(umapLabelX[i]))
  .attr("y", (d, i) => yUmap(umapLabelY[i]))
  .attr("dy", "0.35em")
  .attr("text-anchor", "middle")
  .attr("font-size", 16.5)
  .attr("fill", "#111")
  .text(d => d);

const legendA = svg.append("g");
legendA.append("text").attr("x", 501).attr("y", 213.5).attr("font-size", 15.7).attr("fill", "#222").text("Celltype (major-lineage)");
const legendAY = d3.scalePoint().domain(cellTypes).range([229, 325]);
legendA.selectAll("circle").data(cellTypes).enter().append("circle")
  .attr("cx", 514).attr("cy", d => legendAY(d)).attr("r", 5.2)
  .attr("fill", (d, i) => cellColors[i]);
legendA.selectAll(".item").data(cellTypes).enter().append("text")
  .attr("class", "item").attr("x", 528).attr("y", d => legendAY(d)).attr("dy", "0.35em")
  .attr("font-size", 13.3).attr("fill", "#333").text(d => d);

// ---- panel B
const pieR = 166;
const pieG = svg.append("g").attr("transform", "translate(1046,213)");
const pie = d3.pie().sort(null).startAngle(Math.PI / 2).endAngle(Math.PI / 2 - 2 * Math.PI);
const pieData = pie(cellCounts);
const arc = d3.arc().innerRadius(0).outerRadius(pieR);
pieG.selectAll("path").data(pieData).enter().append("path")
  .attr("d", arc)
  .attr("fill", (d, i) => cellColors[i]);
const edgeAt = (d, r) => {
  const a = (d.startAngle + d.endAngle) / 2 - Math.PI / 2;
  return [Math.cos(a) * r, Math.sin(a) * r];
};
pieG.selectAll("line").data(pieData).enter().append("line")
  .attr("x1", d => edgeAt(d, pieR)[0]).attr("y1", d => edgeAt(d, pieR)[1])
  .attr("x2", d => edgeAt(d, pieR * 1.07)[0]).attr("y2", d => edgeAt(d, pieR * 1.07)[1])
  .attr("stroke", "#333").attr("stroke-width", 1);
pieG.selectAll("text").data(pieData).enter().append("text")
  .attr("x", d => edgeAt(d, pieR * 1.1)[0])
  .attr("y", d => edgeAt(d, pieR * 1.1)[1])
  .attr("dy", "0.35em")
  .attr("text-anchor", d => edgeAt(d, 1)[0] > 0 ? "start" : "end")
  .attr("font-size", 15.3)
  .attr("fill", "#333")
  .text((d, i) => `${cellTypes[i]} (${cellCounts[i]})`);

// ---- heatmaps
function heatmap(o) {
  const g = svg.append("g");
  const x = d3.scaleBand().domain(o.columns).range([o.left, o.right]);
  const y = d3.scaleBand().domain(o.rows).range([o.top, o.bottom]);
  const color = d3.scaleLinear().domain([0, 1, 2, 3, 4]).range(o.colors);

  // title and the cell type strip on top
  g.append("text").attr("x", o.titleX).attr("y", o.titleY).attr("text-anchor", "middle")
    .attr("font-size", o.titleSize).attr("fill", "#222")
    .attr("transform", `translate(${o.titleX},0) scale(${o.titleScale},1) translate(${-o.titleX},0)`)
    .text(o.title);
  g.append("text").attr("x", 0).attr("y", 0).attr("text-anchor", "end")
    .attr("font-size", o.stripSize).attr("fill", "#222")
    .attr("transform", `translate(${o.barRight},${o.stripY}) scale(${o.stripScale},1)`)
    .text("Celltype_major_lineage");
  g.selectAll(".strip").data(o.columns).enter().append("rect")
    .attr("class", "strip")
    .attr("x", d => x(d)).attr("width", x.bandwidth() + 0.5)
    .attr("y", o.stripTop).attr("height", o.stripHeight)
    .attr("fill", (d, i) => cellColors[o.columnType[i]]);

  // pathway colour bar
  g.selectAll(".path-bar").data(o.rows).enter().append("rect")
    .attr("class", "path-bar")
    .attr("x", o.barLeft).attr("width", o.barRight - o.barLeft)
    .attr("y", d => y(d)).attr("height", y.bandwidth() + 0.3)
    .attr("fill", (d, i) => pathwayColors[o.rowPathway[i]]);

  // cells
  o.values.forEach((row, r) => {
    g.append("g").selectAll("rect").data(row).enter().append("rect")
      .attr("x", (d, c) => x(o.columns[c]))
      .attr("y", y(o.rows[r]))
      .attr("width", x.bandwidth() + 0.3)
      .attr("height", y.bandwidth() + 0.3)
      .attr("fill", d => color(d));
  });

  // dashed separators between cell types
  g.selectAll(".sep").data(o.columns.filter((d, i) => i > 0 && o.columnType[i] !== o.columnType[i - 1]))
    .enter().append("line")
    .attr("class", "sep")
    .attr("x1", d => x(d)).attr("x2", d => x(d))
    .attr("y1", o.top).attr("y2", o.bottom)
    .attr("stroke", "#111").attr("stroke-width", 1.3).attr("stroke-dasharray", "5,3");

  // row and column labels
  const rowAxis = g.append("g").attr("transform", `translate(${o.rowLabelX},0)`)
    .call(d3.axisLeft(y).tickSize(0).tickPadding(0));
  rowAxis.select(".domain").remove();
  rowAxis.selectAll("text")
    .attr("font-family", "Liberation Sans").attr("font-size", o.rowSize).attr("fill", "#333")
    .attr("transform", `scale(${o.rowScale},1)`);

  const colAxis = g.append("g").attr("transform", `translate(0,${o.colLabelY})`)
    .call(d3.axisBottom(x).tickSize(0).tickPadding(0));
  colAxis.select(".domain").remove();
  colAxis.selectAll("text")
    .attr("font-family", "Liberation Sans").attr("font-size", o.colSize).attr("fill", "#222")
    .attr("x", 0).attr("y", 0).attr("dy", "0.35em")
    .attr("text-anchor", "end")
    .attr("transform", function() {
      // the longest label would run off the bottom of the page
      const room = h - o.colLabelY - 1;
      const len = this.getComputedTextLength();
      return len > room ? `rotate(-90) scale(${room / len},1)` : "rotate(-90)";
    });
  g.append("text")
    .attr("transform", `translate(${(o.barLeft + o.barRight) / 2},${o.colLabelY}) rotate(-90)`)
    .attr("dy", "0.35em").attr("text-anchor", "end")
    .attr("font-size", o.colSize).attr("fill", "#222").text("Pathway");

  // legends
  const lg = o.legend;
  const legendTitle = (text, yy) => g.append("text")
    .attr("font-size", lg.titleSize).attr("font-weight", "bold").attr("fill", "#222")
    .attr("transform", `translate(${lg.x},${yy}) scale(${lg.scale},1)`)
    .attr("dy", "0.35em").text(text);
  const legendList = (names, colors, y0, step, textX) => {
    g.append("g").selectAll("rect").data(names).enter().append("rect")
      .attr("x", lg.x).attr("width", lg.swatch)
      .attr("y", (d, i) => y0 + i * step - step / 2).attr("height", step - 0.4)
      .attr("fill", (d, i) => colors[i]);
    g.append("g").selectAll("text").data(names).enter().append("text")
      .attr("transform", (d, i) => `translate(${textX},${y0 + i * step}) scale(${lg.scale},1)`)
      .attr("dy", "0.35em").attr("font-size", lg.size).attr("fill", "#333").text(d => d);
  };
  legendTitle("Pathway", lg.pathTitleY);
  legendList(o.pathwayNames, o.pathwayNames.map(d => pathwayColors[pathways.indexOf(d)]), lg.pathY, lg.pathStep, lg.pathTextX);
  legendTitle("Celltype (major-lineage)", lg.typeTitleY);
  legendList(cellTypes, cellColors, lg.typeY, lg.typeStep, lg.typeTextX);
  legendTitle("-log10FDR", lg.fdrTitleY);

  const gradId = o.id + "-grad";
  const grad = svg.append("defs").append("linearGradient").attr("id", gradId)
    .attr("x1", 0).attr("x2", 0).attr("y1", 1).attr("y2", 0);
  grad.selectAll("stop").data(color.domain()).enter().append("stop")
    .attr("offset", d => d / 4).attr("stop-color", d => color(d));
  g.append("rect").attr("x", lg.x).attr("width", lg.swatch)
    .attr("y", lg.barTop).attr("height", lg.barBottom - lg.barTop)
    .attr("fill", `url(#${gradId})`);
  const fdr = d3.scaleLinear().domain([0, 4]).range(lg.fdrRange);
  const fdrAxis = g.append("g").attr("transform", `translate(${lg.typeTextX},0)`)
    .call(d3.axisRight(fdr).tickValues([0, 1, 2, 3, 4]).tickSize(0).tickPadding(0).tickFormat(d3.format("d")));
  fdrAxis.select(".domain").remove();
  fdrAxis.selectAll("text").attr("font-family", "Liberation Sans").attr("font-size", lg.size).attr("fill", "#333")
    .attr("transform", `scale(${lg.scale},1)`);
}

heatmap({
  id: "up", title: "UP-REGULATED KEGG GENE-SETS",
  columns: upColumns, columnType: upColumnType, rows: upRows, rowPathway: upRowPathway, values: upValues,
  pathwayNames: pathways,
  colors: ["#efefef", "#fee0bd", "#fdb162", "#f4703c", "#dd1c16"],
  left: 211.7, right: 485.7, top: 585.3, bottom: 1021.3,
  stripTop: 572.7, stripHeight: 10.6, barLeft: 197, barRight: 209,
  titleX: 348.5, titleY: 567.8, titleSize: 11.2, titleScale: 1.08,
  stripY: 581.5, stripSize: 10.4, stripScale: 1,
  rowLabelX: 194.5, rowSize: 6, rowScale: 1.055,
  colLabelY: 1024, colSize: 9.1,
  legend: {
    x: 491, swatch: 9.5, size: 7.8, titleSize: 7.8, scale: 1.09,
    pathTitleY: 670, pathY: 679.7, pathStep: 8.33, pathTextX: 505,
    typeTitleY: 874, typeY: 884, typeStep: 8.3, typeTextX: 503,
    fdrTitleY: 936, barTop: 941.7, barBottom: 984, fdrRange: [982, 943.5]
  }
});

heatmap({
  id: "down", title: "DOWN-REGULATED KEGG GENE-SETS",
  columns: downColumns, columnType: downColumnType, rows: downRows, rowPathway: downRowPathway, values: downValues,
  pathwayNames: downPathways.map(i => pathways[i]),
  colors: ["#efefef", "#b3d2e8", "#82b3d8", "#4a80bd", "#1b5aa9"],
  left: 955, right: 1270, top: 626.7, bottom: 923.3,
  stripTop: 609, stripHeight: 14.3, barLeft: 940.7, barRight: 953,
  titleX: 1112.5, titleY: 600.5, titleSize: 14, titleScale: 0.85,
  stripY: 621.5, stripSize: 13.5, stripScale: 0.75,
  rowLabelX: 939, rowSize: 8.5, rowScale: 0.735,
  colLabelY: 926, colSize: 13,
  legend: {
    x: 1275, swatch: 9.5, size: 10.5, titleSize: 10.5, scale: 0.8,
    pathTitleY: 649, pathY: 662.7, pathStep: 11.9, pathTextX: 1289.3,
    typeTitleY: 810, typeY: 823.3, typeStep: 12, typeTextX: 1287.7,
    fdrTitleY: 899, barTop: 906.7, barBottom: 966.7, fdrRange: [965, 909]
  }
});
</script>
</body>
</html>
